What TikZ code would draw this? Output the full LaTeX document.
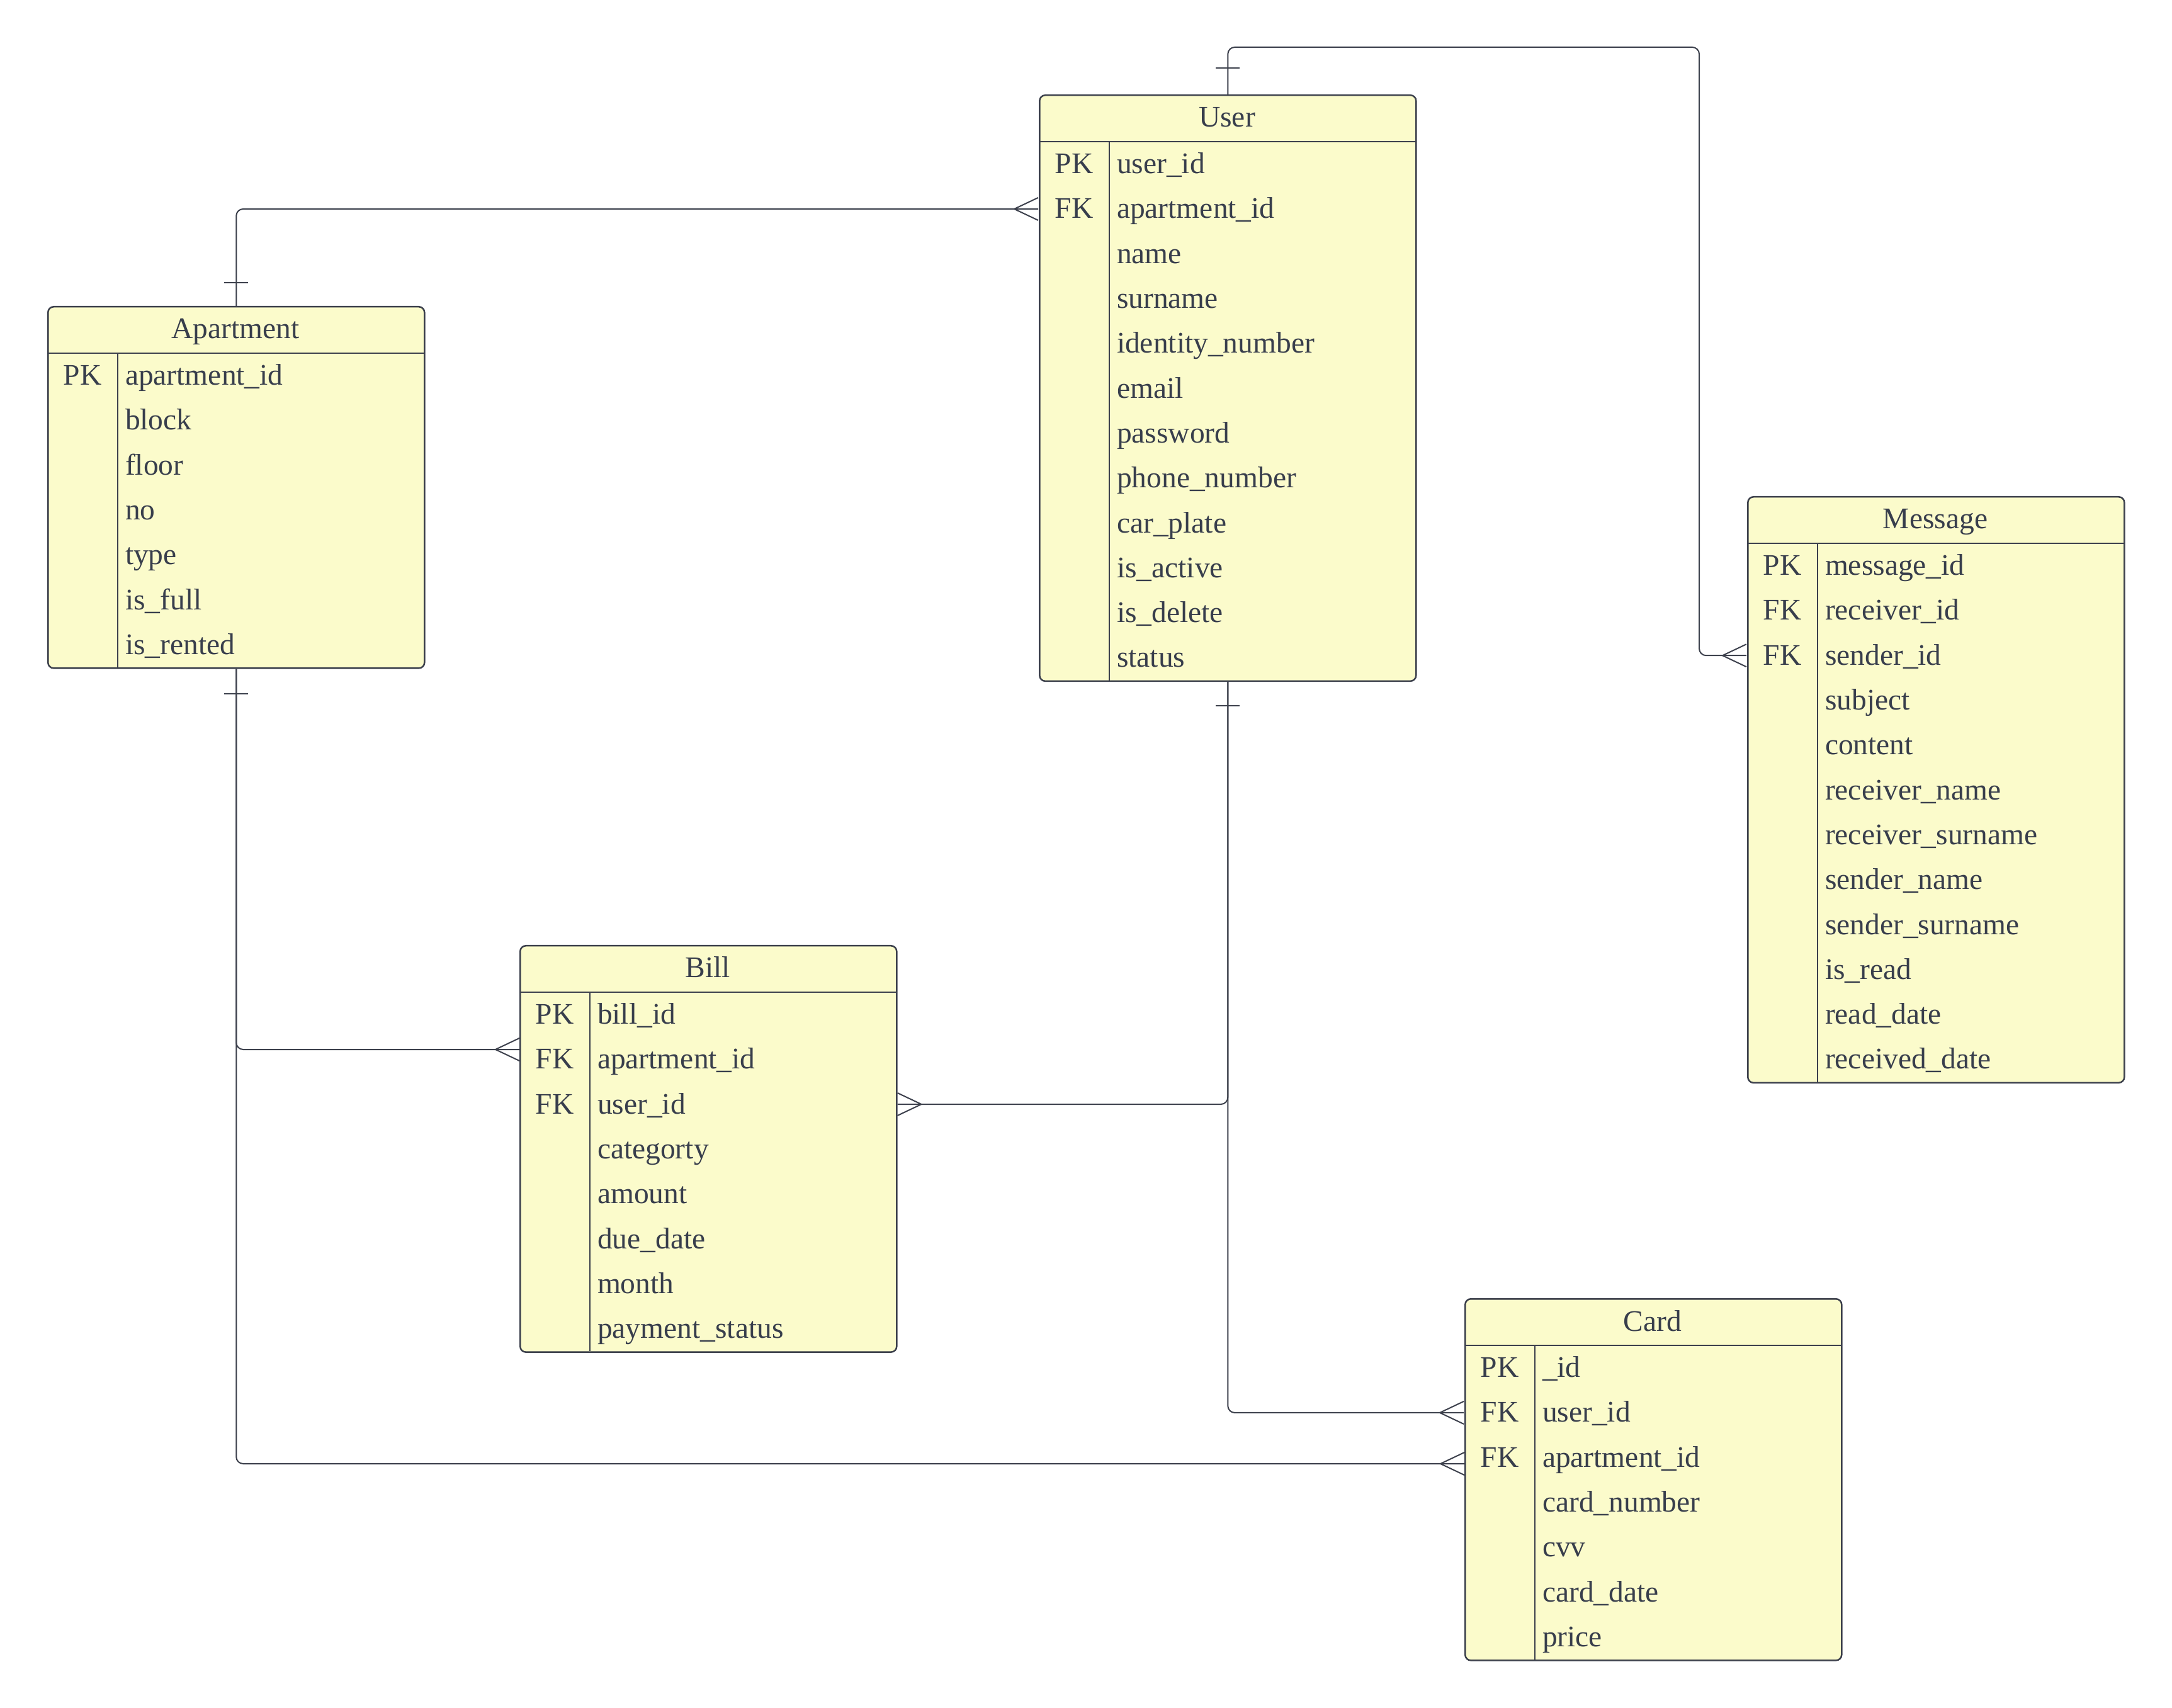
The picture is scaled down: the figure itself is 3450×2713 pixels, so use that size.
\documentclass[tikz,border=0pt]{standalone}
\usepackage{fontspec}
\setmainfont{Liberation Serif}
\usetikzlibrary{calc}
\definecolor{erline}{RGB}{60,64,76}
\definecolor{erfill}{RGB}{251,251,203}
\definecolor{ertext}{RGB}{56,62,76}

% One entity table: id, left, top, title, list of key/attribute pairs
\newcommand\erentity[5]{%
  \def\ernrows{0}%
  \foreach \k/\a [count=\i] in {#5} {\xdef\ernrows{\i}}%
  \pgfmathsetmacro\erboxh{75+\ernrows*71.3}%
  \node[entbox, anchor=north west, minimum height=\erboxh*0.2pt] (#1) at (#2,#3) {};
  \draw[rule] (#2,#3+75) -- ++(598,0);
  \draw[rule] (#2+112,#3+75) -- (#2+112,#3+\erboxh);
  \node[titletext] (#1-title) at (#2+299,#3+52) {#4};
  \foreach \k/\a [count=\i] in {#5} {%
    \node[rowcell] (#1-\i) at (#2+299, #3+75+\i*71.3-35.65) {};
    \node[keytext] (#1-\i-key) at (#2+56, #3+75+\i*71.3-20.65) {\k};
    \node[attrtext] (#1-\i-attr) at (#2+123, #3+75+\i*71.3-20.65) {\a};
  }%
}
% crow's foot at a box edge: opening towards the box on the right / on the left
\newcommand\crowright[1]{\draw[crow] ($(#1)+(0,-18)$) -- ++(-38,18) -- ++(38,18);}
\newcommand\crowleft[1]{\draw[crow] ($(#1)+(0,-18)$) -- ++(38,18) -- ++(-38,18);}

\begin{document}
\begin{tikzpicture}[x=0.2pt,y=-0.2pt,
  entbox/.style={draw=erline, line width=0.5pt, fill=erfill, rounded corners=1.8pt,
    rectangle, inner sep=0pt, minimum width=119.6pt},
  rowcell/.style={rectangle, inner sep=0pt, minimum width=119.6pt, minimum height=14.26pt},
  txt/.style={inner sep=0pt, text=ertext, font=\fontsize{9.5}{11}\selectfont},
  keytext/.style={txt, anchor=base},
  attrtext/.style={txt, anchor=base west},
  titletext/.style={txt, anchor=base},
  rule/.style={draw=erline, line width=0.25pt},
  conn/.style={draw=erline, line width=0.4pt, rounded corners=2.2pt},
  crow/.style={draw=erline, line width=0.4pt},
  onebar/.style={draw=erline, line width=0.4pt},
]
\fill[white] (0,0) rectangle (3450,2713);
\useasboundingbox (0,0) rectangle (3450,2713);

\erentity{user}{1650}{150}{User}{PK/user\_id, FK/apartment\_id, {}/name, {}/surname,
  {}/identity\_number, {}/email, {}/password, {}/phone\_number, {}/car\_plate,
  {}/is\_active, {}/is\_delete, {}/status}
\erentity{apartment}{75}{486}{Apartment}{PK/apartment\_id, {}/block, {}/floor, {}/no,
  {}/type, {}/is\_full, {}/is\_rented}
\erentity{message}{2775}{788}{Message}{PK/message\_id, FK/receiver\_id, FK/sender\_id,
  {}/subject, {}/content, {}/receiver\_name, {}/receiver\_surname, {}/sender\_name,
  {}/sender\_surname, {}/is\_read, {}/read\_date, {}/received\_date}
\erentity{bill}{825}{1501}{Bill}{PK/bill\_id, FK/apartment\_id, FK/user\_id,
  {}/categorty, {}/amount, {}/due\_date, {}/month, {}/payment\_status}
\erentity{card}{2326}{2062}{Card}{PK/\_id, FK/user\_id, FK/apartment\_id,
  {}/card\_number, {}/cvv, {}/card\_date, {}/price}

% routing points
\coordinate (kUM) at (2699,75);
\coordinate (yAB) at (0,1667);
\coordinate (yAC) at (0,2325);
\coordinate (yUB) at (0,1754);
\coordinate (aB) at (bill.west |- yAB);
\coordinate (aC) at (card.west |- yAC);
\coordinate (uB) at (bill.east |- yUB);

% User -- Message
\draw[conn] (user.north) |- (kUM) |- (message-3.west);
\crowright{message-3.west}
\draw[onebar] ($(user.north)+(-19,-42)$) -- ++(38,0);

% Apartment -- User
\draw[conn] (apartment.north) |- (user-2.west);
\crowright{user-2.west}
\draw[onebar] ($(apartment.north)+(-19,-37)$) -- ++(38,0);

% Apartment -- Bill, Apartment -- Card
\draw[conn] (apartment.south) |- (aB);
\crowright{aB}
\draw[conn] (apartment.south) |- (aC);
\crowright{aC}
\draw[onebar] ($(apartment.south)+(-19,39)$) -- ++(38,0);

% User -- Bill, User -- Card
\draw[conn] (user.south) |- (uB);
\crowleft{uB}
\draw[conn] (user.south) |- (card-2.west);
\crowright{card-2.west}
\draw[onebar] ($(user.south)+(-19,38)$) -- ++(38,0);
\end{tikzpicture}
\end{document}
